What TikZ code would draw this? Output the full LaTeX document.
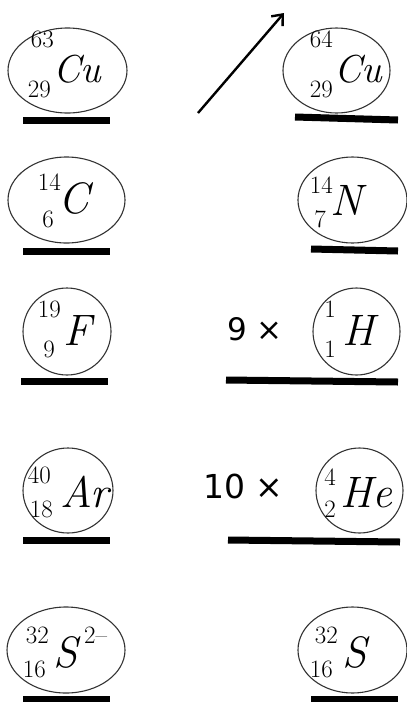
\documentclass[tikz,border=0pt]{standalone}
\usepackage{fontspec}
\newfontfamily\sansf{DejaVu Sans}
\usetikzlibrary{shapes.geometric,arrows.meta}
\tikzset{
  ell/.style={ellipse, draw=black!80, line width=1.1pt, inner sep=0pt},
  num/.style={inner sep=0pt, anchor=base east, font=\fontsize{25}{25}\selectfont},
  sym/.style={inner sep=0pt, anchor=base west, font=\itshape\fontsize{44}{44}\selectfont},
  csym/.style={inner sep=0pt, anchor=base west, font=\itshape\fontsize{39}{39}\selectfont},
  mult/.style={inner sep=0pt, anchor=base west, font=\sansf\fontsize{31}{31}\selectfont},
  bar/.style={line width=7pt, black},
}
\begin{document}
\begin{tikzpicture}[x=1pt,y=-1pt]
\useasboundingbox (0,0) rectangle (407,702);
% Row 1: Cu
\node[ell, minimum width=119pt, minimum height=85pt] (cuL) at (67.5,70.5) {};
\node[num] (cuLa) at (54,47) {63};
\node[num] (cuLz) at (51,97) {29};
\node[csym] (cuLs) at (53,82) {Cu};
\draw[bar] (23,120) -- (110,120);
\node[ell, minimum width=107pt, minimum height=85pt] (cuR) at (336.5,70.5) {};
\node[num] (cuRa) at (333,47) {64};
\node[num] (cuRz) at (333,97) {29};
\node[csym] (cuRs) at (334,82) {Cu};
\draw[bar] (295,117) -- (398,120);
\coordinate (arS) at (198,113);
\coordinate (arE) at (284,13);
\draw[line width=2.4pt, -{Straight Barb[length=9pt,width=15pt,line width=2.4pt]}] (arS) -- (arE);
% Row 2: C, N
\node[ell, minimum width=117pt, minimum height=86pt] (cL) at (66.5,200) {};
\node[num] (cLa) at (61,190) {14};
\node[num] (cLz) at (54,227) {6};
\node[sym] (cLs) at (58,213) {C};
\draw[bar] (23,251) -- (110,251);
\node[ell, minimum width=109pt, minimum height=86pt] (nR) at (352.5,200) {};
\node[num] (nRa) at (333,193) {14};
\node[num] (nRz) at (326,227) {7};
\node[sym] (nRs) at (330,215) {N};
\draw[bar] (311,249) -- (398,251);
% Row 3: F, H
\node[ell, minimum width=88pt, minimum height=87pt] (fL) at (67,331.5) {};
\node[num] (fLa) at (61,317) {19};
\node[num] (fLz) at (55,357) {9};
\node[sym] (fLs) at (63,345) {F};
\draw[bar] (21,381) -- (108,381);
\node[ell, minimum width=87pt, minimum height=87pt] (hR) at (356.5,331.5) {};
\node[num] (hRa) at (336,317) {1};
\node[num] (hRz) at (336,357) {1};
\node[sym] (hRs) at (342,345) {H};
\node[mult] (nine) at (227,340) {9 ×};
\draw[bar] (226,380) -- (398,382);
% Row 4: Ar, He
\node[ell, minimum width=90pt, minimum height=85pt] (arL) at (68,490.5) {};
\node[num] (arLa) at (51,483) {40};
\node[num] (arLz) at (53,517) {18};
\node[sym] (arLs) at (60,507) {Ar};
\draw[bar] (23,540) -- (110,540);
\node[ell, minimum width=87pt, minimum height=85pt] (heR) at (359.5,490.5) {};
\node[num] (heRa) at (336,485) {4};
\node[num] (heRz) at (336,517) {2};
\node[sym] (heRs) at (340,507) {He};
\node[mult, font=\sansf\fontsize{33}{33}\selectfont] (ten) at (203,498) {10 ×};
\draw[bar] (228,540) -- (400,542);
% Row 5: S2-, S
\node[ell, minimum width=118pt, minimum height=86pt] (sL) at (66,650) {};
\node[num] (sLa) at (49,643) {32};
\node[num] (sLz) at (46,677) {16};
\node[sym] (sLs) at (53,667) {S};
\node[inner sep=0pt, anchor=base west, font=\fontsize{25}{25}\selectfont] (sLc) at (84,643) {2–};
\draw[bar] (23,699) -- (110,699);
\node[ell, minimum width=109pt, minimum height=86pt] (sR) at (352.5,650) {};
\node[num] (sRa) at (338,643) {32};
\node[num] (sRz) at (333,677) {16};
\node[sym] (sRs) at (342,667) {S};
\draw[bar] (311,699) -- (398,699);
\end{tikzpicture}
\end{document}
